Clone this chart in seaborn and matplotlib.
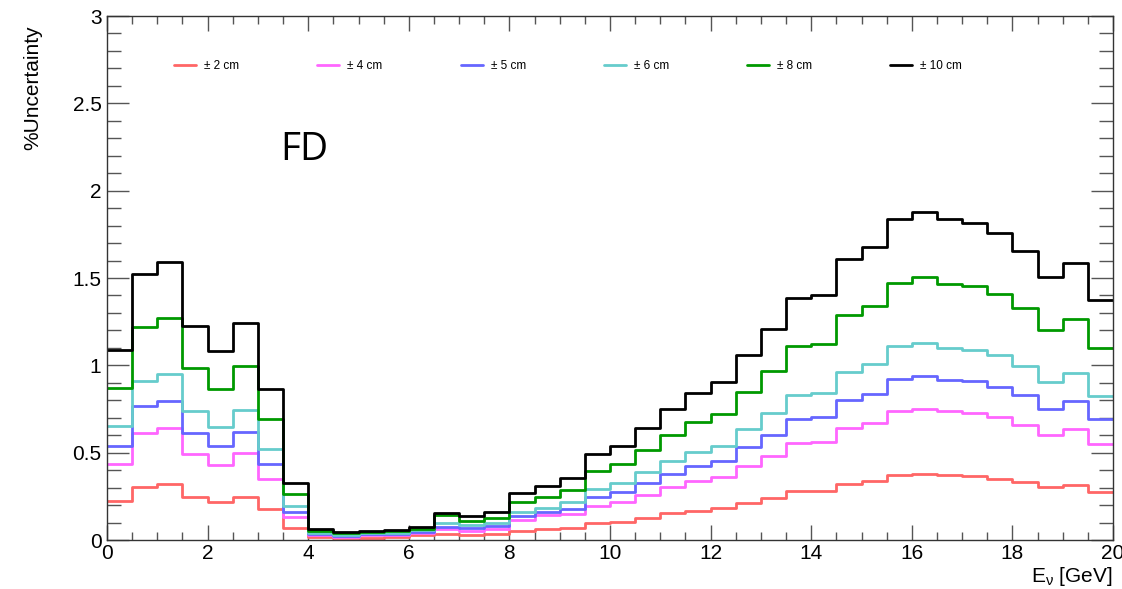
import numpy as np
import pandas as pd
import matplotlib
matplotlib.use("Agg")
import matplotlib.pyplot as plt
from matplotlib.ticker import MultipleLocator
from matplotlib.lines import Line2D
import seaborn as sns

# ---------------- data ----------------
bin_edges = np.arange(0, 20.5, 0.5)  # 40 bins of 0.5 GeV

labels = ["\u00b1 2 cm", "\u00b1 4 cm", "\u00b1 5 cm", "\u00b1 6 cm", "\u00b1 8 cm", "\u00b1 10 cm"]
colors = ["#ff6666", "#ff66ff", "#6666ff", "#66cccc", "#009900", "#000000"]

unc_2cm = [0.222, 0.305, 0.319, 0.246, 0.218, 0.248, 0.177, 0.069,
           0.015, 0.010, 0.014, 0.015, 0.027, 0.032, 0.027, 0.032,
           0.053, 0.065, 0.070, 0.097, 0.105, 0.124, 0.153, 0.166,
           0.181, 0.214, 0.242, 0.280, 0.280, 0.320, 0.336, 0.370,
           0.378, 0.370, 0.364, 0.351, 0.332, 0.303, 0.317, 0.275]
unc_4cm = [0.433, 0.611, 0.639, 0.494, 0.427, 0.500, 0.349, 0.130,
           0.027, 0.020, 0.026, 0.028, 0.038, 0.061, 0.053, 0.061,
           0.113, 0.141, 0.146, 0.196, 0.216, 0.258, 0.302, 0.336,
           0.362, 0.425, 0.483, 0.553, 0.559, 0.643, 0.668, 0.738,
           0.752, 0.738, 0.727, 0.702, 0.660, 0.601, 0.637, 0.550]
unc_5cm = [0.540, 0.765, 0.797, 0.614, 0.538, 0.620, 0.435, 0.162,
           0.034, 0.025, 0.032, 0.034, 0.046, 0.076, 0.069, 0.078,
           0.137, 0.162, 0.179, 0.244, 0.273, 0.324, 0.378, 0.424,
           0.452, 0.531, 0.601, 0.691, 0.702, 0.801, 0.834, 0.920,
           0.937, 0.916, 0.908, 0.878, 0.830, 0.752, 0.794, 0.691]
unc_6cm = [0.653, 0.910, 0.952, 0.737, 0.649, 0.744, 0.519, 0.196,
           0.042, 0.030, 0.038, 0.041, 0.055, 0.095, 0.084, 0.095,
           0.162, 0.185, 0.215, 0.292, 0.324, 0.387, 0.452, 0.502,
           0.540, 0.635, 0.725, 0.830, 0.843, 0.963, 1.009, 1.109,
           1.126, 1.101, 1.090, 1.057, 0.996, 0.906, 0.954, 0.824]
unc_8cm = [0.868, 1.221, 1.271, 0.986, 0.862, 0.994, 0.691, 0.262,
           0.053, 0.038, 0.046, 0.050, 0.061, 0.141, 0.110, 0.126,
           0.219, 0.248, 0.286, 0.395, 0.433, 0.515, 0.601, 0.673,
           0.721, 0.849, 0.966, 1.108, 1.124, 1.288, 1.339, 1.473,
           1.505, 1.467, 1.452, 1.406, 1.326, 1.204, 1.267, 1.101]
unc_10cm = [1.088, 1.523, 1.591, 1.225, 1.080, 1.244, 0.866, 0.324,
            0.065, 0.048, 0.053, 0.057, 0.073, 0.156, 0.137, 0.160,
            0.271, 0.309, 0.355, 0.490, 0.540, 0.643, 0.750, 0.843,
            0.904, 1.060, 1.206, 1.387, 1.400, 1.608, 1.677, 1.840,
            1.880, 1.835, 1.817, 1.760, 1.654, 1.504, 1.587, 1.374]

series = [unc_2cm, unc_4cm, unc_5cm, unc_6cm, unc_8cm, unc_10cm]

# long-form table: step outline uses left edges plus final edge (last value repeated)
rows = []
for lab, vals in zip(labels, series):
    ys = list(vals) + [vals[-1]]
    for x, y in zip(bin_edges, ys):
        rows.append({"E": x, "unc": y, "series": lab})
df = pd.DataFrame(rows)

# ---------------- style ----------------
sns.set_style("white")
plt.rcParams["font.family"] = ["Liberation Sans", "DejaVu Sans"]
plt.rcParams["mathtext.fontset"] = "custom"
plt.rcParams["mathtext.rm"] = "Liberation Sans"
plt.rcParams["mathtext.it"] = "Liberation Sans:italic"
plt.rcParams["text.color"] = "black"
plt.rcParams["axes.labelcolor"] = "black"

fig = plt.figure(figsize=(11.22, 5.89), dpi=100)
ax = fig.add_axes([107 / 1122, 1 - 540 / 589, (1113 - 107) / 1122, (540 - 16) / 589])

sns.lineplot(data=df, x="E", y="unc", hue="series", hue_order=labels,
             palette=dict(zip(labels, colors)), drawstyle="steps-post",
             estimator=None, sort=True, linewidth=2, legend=False, ax=ax)

ax.set_xlim(0, 20)
ax.set_ylim(0, 3)
ax.xaxis.set_minor_locator(MultipleLocator(0.5))
ax.yaxis.set_minor_locator(MultipleLocator(0.1))
ax.set_xticks([0, 2, 4, 6, 8, 10, 12, 14, 16, 18, 20])
ax.set_xticklabels(["0", "2", "4", "6", "8", "10", "12", "14", "16", "18", "20"])
ax.set_yticks([0, 0.5, 1, 1.5, 2, 2.5, 3])
ax.set_yticklabels(["0", "0.5", "1", "1.5", "2", "2.5", "3"])

tick_col = "#555555"
ax.tick_params(axis="x", which="major", direction="in", top=True, bottom=True,
               length=11, width=1, color=tick_col, labelcolor="black", labelsize=15, pad=3)
ax.tick_params(axis="x", which="minor", direction="in", top=True, bottom=True,
               length=6, width=1, color=tick_col)
ax.tick_params(axis="y", which="major", direction="in", left=True, right=True,
               length=16, width=1, color=tick_col, labelcolor="black", labelsize=15, pad=4)
ax.tick_params(axis="y", which="minor", direction="in", left=True, right=True,
               length=10, width=1, color=tick_col)
for sp in ax.spines.values():
    sp.set_color("#333333")
    sp.set_linewidth(1)

ax.set_xlabel(r"$\mathregular{E_{\nu}}$ [GeV]", fontsize=15, loc="right", labelpad=1)
ax.set_ylabel("%Uncertainty", fontsize=15, loc="top")
ax.yaxis.set_label_coords(-0.0646, 0.983)

ax.text(0.172, 0.725, "FD", transform=ax.transAxes, fontsize=28, color="black",
        family=["Open Sans", "DejaVu Sans"], ha="left", va="baseline")

handles = [Line2D([0], [0], color=c, lw=2) for c in colors]
ax.legend(handles, labels, ncol=6, loc="center left",
          bbox_to_anchor=(0.067, 0.904), frameon=False, fontsize=8.5,
          labelcolor="black",
          handlelength=1.86, handletextpad=0.68, columnspacing=6.6,
          borderpad=0, borderaxespad=0)

fig.savefig("out.png", dpi=100)
